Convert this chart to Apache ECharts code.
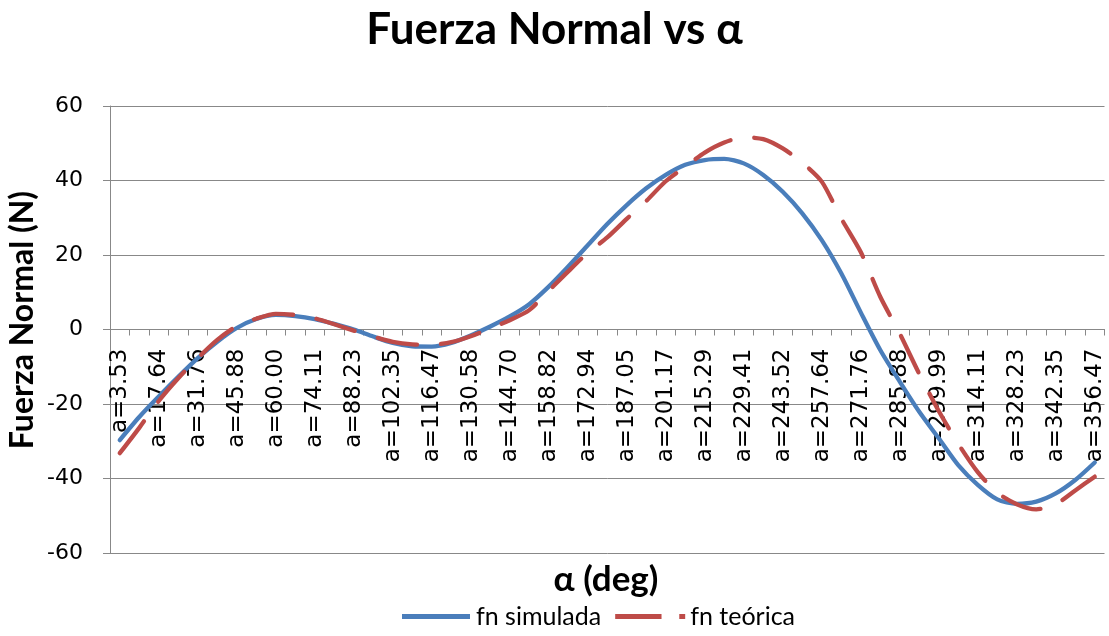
<!DOCTYPE html>
<html>
<head>
<meta charset="utf-8">
<script src="https://cdn.jsdelivr.net/npm/echarts@6/dist/echarts.min.js"></script>
<style>
  html, body { margin: 0; padding: 0; background: #fff; }
  #chart { width: 1109px; height: 636px; }
</style>
</head>
<body>
<div id="chart"></div>
<script>
// Angle samples (deg) for each point
const angles = [
  '3.53', '10.59', '17.64', '24.70', '31.76', '38.82', '45.88', '52.94', '60.00', '67.06',
  '74.11', '81.17', '88.23', '95.29', '102.35', '109.41', '116.47', '123.53', '130.58', '137.64',
  '144.70', '151.76', '158.82', '165.88', '172.94', '180.00', '187.05', '194.11', '201.17', '208.23',
  '215.29', '222.35', '229.41', '236.47', '243.52', '250.58', '257.64', '264.70', '271.76', '278.82',
  '285.88', '292.94', '299.99', '307.05', '314.11', '321.17', '328.23', '335.29', '342.35', '349.41',
  '356.47'
];

// Simulated normal force (N)
const fnSimulada = [
  -29.7, -23.5, -18.0, -12.7, -7.7, -3.3, 0.4, 2.8, 3.9, 3.6,
  2.8, 1.5, 0.0, -1.9, -3.6, -4.5, -4.6, -3.6, -1.6, 0.8,
  3.5, 6.8, 11.5, 16.9, 22.6, 28.3, 33.4, 37.9, 41.5, 44.2,
  45.5, 45.8, 44.6, 41.5, 37.0, 31.2, 24.0, 15.1, 4.6, -5.5,
  -14.0, -22.1, -29.2, -36.4, -41.7, -45.6, -46.8, -46.2, -44.0, -40.4,
  -35.7
];

// Theoretical normal force (N)
const fnTeorica = [
  -33.2, -26.4, -19.2, -13.1, -7.7, -2.8, 0.9, 2.9, 4.2, 3.9,
  3.0, 1.4, -0.3, -1.9, -3.3, -4.0, -4.1, -3.4, -1.8, 0.3,
  2.5, 5.2, 10.4, 15.6, 20.6, 24.7, 29.7, 34.5, 39.8, 43.7,
  47.5, 50.2, 51.6, 51.1, 48.6, 44.8, 39.7, 29.8, 20.8, 8.8,
  -1.1, -11.9, -21.9, -30.7, -38.3, -43.8, -46.9, -48.3, -46.9, -43.2,
  -39.5
];

// Value-axis range
const yMin = -60;
const yMax = 60;
const yStep = 20;

const categories = angles.map(a => 'a=' + a);

const TITLE_FONT = 'Lato';
const TICK_FONT = 'DejaVu Sans';
const GRID_GRAY = '#888888';
const BLUE = '#4A7EBB';
const RED = '#BE4B48';

// Plot box
const GRID = { left: 110, right: 4.5, top: 106, bottom: 83 };
const plotH = 636 - GRID.top - GRID.bottom;
// Lift the category axis from the bottom edge up to the value 0
const zeroOffset = -plotH * (0 - yMin) / (yMax - yMin);

const chart = echarts.init(document.getElementById('chart'), null, { renderer: 'canvas' });

chart.setOption({
  animation: false,
  backgroundColor: '#ffffff',
  textStyle: { fontFamily: TITLE_FONT, color: '#000' },
  title: {
    text: 'Fuerza Normal vs α',
    left: 'center',
    top: 3,
    textStyle: { fontFamily: TITLE_FONT, fontSize: 44, fontWeight: 'bold', color: '#000' }
  },
  graphic: [
    {
      type: 'text',
      x: 606,
      y: 580,
      style: {
        text: 'α (deg)',
        fontFamily: TITLE_FONT,
        fontSize: 35,
        fontWeight: 'bold',
        fill: '#000',
        align: 'center',
        verticalAlign: 'middle'
      }
    },
    {
      type: 'text',
      x: 23,
      y: 320,
      rotation: Math.PI / 2,
      style: {
        text: 'Fuerza Normal (N)',
        fontFamily: TITLE_FONT,
        fontSize: 32,
        fontWeight: 'bold',
        fill: '#000',
        align: 'center',
        verticalAlign: 'middle'
      }
    }
  ],
  legend: {
    bottom: 2,
    left: 397,
    itemWidth: 70,
    itemHeight: 5,
    itemGap: 14,
    textStyle: { fontFamily: TITLE_FONT, fontSize: 25, color: '#000' },
    data: [
      { name: 'fn simulada', icon: 'path://M0,0H68V5H0Z' },
      { name: 'fn teórica', icon: 'path://M0,0H47V5H0Z M65,0H71V5H65Z' }
    ]
  },
  grid: {
    left: GRID.left,
    right: GRID.right,
    top: GRID.top,
    bottom: GRID.bottom,
    containLabel: false,
    outerBoundsMode: 'none'
  },
  xAxis: {
    type: 'category',
    data: categories,
    boundaryGap: true,
    position: 'bottom',
    offset: zeroOffset,
    axisLine: { onZero: false, lineStyle: { color: GRID_GRAY, width: 1 } },
    axisTick: { show: true, interval: 0, length: 6, lineStyle: { color: GRID_GRAY } },
    axisLabel: {
      interval: 1,
      rotate: 90,
      margin: 19,
      fontFamily: TICK_FONT,
      fontSize: 23,
      color: '#000'
    },
    splitLine: { show: false }
  },
  yAxis: {
    type: 'value',
    min: yMin,
    max: yMax,
    interval: yStep,
    axisLine: { show: true, lineStyle: { color: GRID_GRAY, width: 1 } },
    axisTick: { show: true, length: 7, lineStyle: { color: GRID_GRAY } },
    axisLabel: { margin: 27, fontFamily: TICK_FONT, fontSize: 22, color: '#000' },
    splitLine: { show: true, lineStyle: { color: GRID_GRAY, width: 1 } }
  },
  series: [
    {
      name: 'fn simulada',
      type: 'line',
      data: fnSimulada,
      smooth: 0.25,
      symbol: 'none',
      color: BLUE,
      lineStyle: { width: 4.3, color: BLUE, cap: 'round', join: 'round' },
      z: 3
    },
    {
      name: 'fn teórica',
      type: 'line',
      data: fnTeorica,
      smooth: 0.25,
      symbol: 'none',
      color: RED,
      lineStyle: { width: 4.3, color: RED, type: [40, 24], cap: 'round', join: 'round' },
      z: 4
    }
  ]
});
</script>
</body>
</html>
